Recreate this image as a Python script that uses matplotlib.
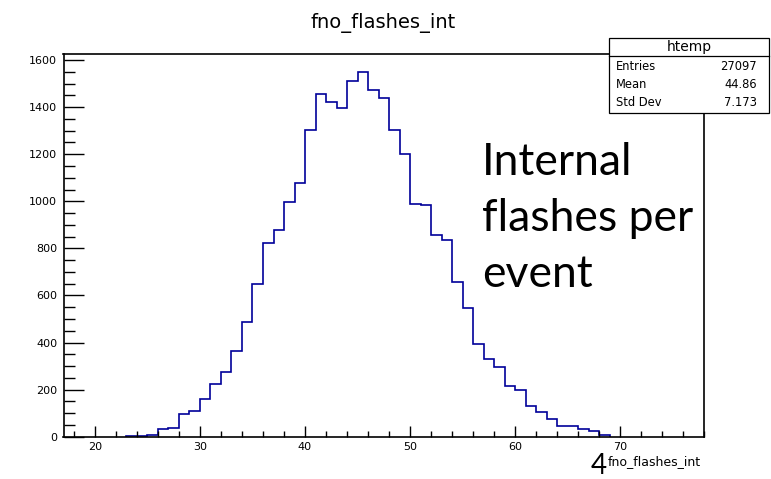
import matplotlib.pyplot as plt
from matplotlib.patches import Rectangle
from matplotlib.ticker import MultipleLocator
import numpy as np

# histogram of internal flashes per event, one bin per integer
first_bin = 23
counts = [4, 5, 6, 33, 38, 95, 109, 159, 224, 273, 363, 489, 647, 821, 877,
          997, 1079, 1301, 1454, 1422, 1395, 1511, 1548, 1471, 1440, 1301,
          1200, 990, 984, 858, 837, 658, 545, 392, 331, 297, 217, 197, 129,
          106, 76, 45, 45, 33, 24, 8]
edges = np.arange(first_bin, first_bin + len(counts) + 1)

hist_name = "htemp"
var_name = "fno_flashes_int"
stat_names = ["Entries", "Mean", "Std Dev"]
stat_values = ["27097", "44.86", "7.173"]
note_lines = ["Internal", "flashes per", "event"]
slide_no = "4"

W, H = 771, 479
plt.rcParams["font.family"] = ["DejaVu Sans"]


def fx(px):
    return px / W


def fy(py):
    return 1 - py / H


fig = plt.figure(figsize=(W / 100, H / 100), dpi=100)
ax = fig.add_axes([fx(63.5), fy(436.7), fx(704) - fx(63.5), fy(54) - fy(436.7)])

ax.stairs(counts, edges, color="#000099", linewidth=1.2)

ax.set_xlim(17, 78)
ax.set_ylim(0, 1626)
ax.xaxis.set_major_locator(MultipleLocator(10))
ax.xaxis.set_minor_locator(MultipleLocator(2))
ax.yaxis.set_major_locator(MultipleLocator(200))
ax.yaxis.set_minor_locator(MultipleLocator(50))
ax.tick_params(axis="both", which="both", direction="in", top=False, right=False,
               labelsize=8, width=1.0, colors="black")
ax.tick_params(axis="y", which="major", length=14.5, pad=4.5)
ax.tick_params(axis="y", which="minor", length=8)
ax.tick_params(axis="x", which="major", length=8, pad=4)
ax.tick_params(axis="x", which="minor", length=4.3)
for s in ax.spines.values():
    s.set_linewidth(1.2)

# title and axis label
fig.text(fx(383), fy(23), var_name, ha="center", va="center", fontsize=14)
fig.text(fx(701), fy(462), var_name, ha="right", va="center", fontsize=9)

# stats box
box_l, box_r, box_t, box_sep, box_b = 609, 769, 38, 56, 113
fig.patches.append(Rectangle((fx(box_l), fy(box_b)), fx(box_r) - fx(box_l),
                             fy(box_t) - fy(box_b), transform=fig.transFigure,
                             facecolor="white", edgecolor="black", linewidth=0.9,
                             zorder=5))
fig.add_artist(plt.Line2D([fx(box_l), fx(box_r)], [fy(box_sep), fy(box_sep)],
                          transform=fig.transFigure, color="black", linewidth=0.9,
                          zorder=6))
fig.text(fx((box_l + box_r) / 2), fy(47), hist_name, ha="center", va="center",
         fontsize=10, zorder=7)
for i, (name, val) in enumerate(zip(stat_names, stat_values)):
    y = fy(66 + i * 18.3)
    fig.text(fx(616), y, name, ha="left", va="center", fontsize=8.3, zorder=7)
    fig.text(fx(757), y, val, ha="right", va="center", fontsize=8.3, zorder=7)

# slide annotation
for i, line in enumerate(note_lines):
    fig.text(fx(482), fy(175 + i * 56), line, ha="left", va="baseline",
             fontsize=32, family="Lato")
fig.text(fx(591), fy(474), slide_no, ha="left", va="baseline", fontsize=20,
         family="Lato")

fig.savefig("out.png", dpi=100)
